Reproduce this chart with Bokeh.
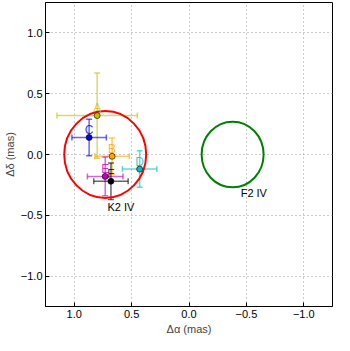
from bokeh.plotting import figure
from bokeh.models import (Range1d, FixedTicker, Whisker, TeeHead,
                          ColumnDataSource)
from bokeh.embed import file_html
from bokeh.resources import INLINE

# ---- data ----
names = ["A", "B", "C", "D", "E", "F"]
dra = [0.80, 0.67, 0.87, 0.43, 0.73, 0.68]
ddec = [0.32, -0.015, 0.14, -0.12, -0.18, -0.22]
err_ra = [0.35, 0.15, 0.15, 0.15, 0.155, 0.15]
err_dec = [0.35, 0.15, 0.15, 0.15, 0.16, 0.15]
colors = ["#bfbf00", "#ffa500", "#0000ff", "#00bfbf", "#bf00bf", "#000000"]

circle_names = ["K2 IV", "F2 IV"]
circle_x = [0.73, -0.38]
circle_y = [0.0, 0.0]
circle_r = [0.357, 0.27]
circle_colors = ["#ff0000", "#008000"]
circle_label_x = [0.71, -0.45]
circle_label_y = [-0.43, -0.32]

tick_values = [-1.0, -0.5, 0.0, 0.5, 1.0]
tick_labels = ["\u22121.0", "\u22120.5", "0.0", "0.5", "1.0"]

FONT = "Liberation Sans"

p = figure(width=336, height=337, output_backend="svg", toolbar_location=None,
           x_range=Range1d(1.25, -1.25), y_range=Range1d(-1.25, 1.25),
           min_border_left=4, min_border_right=4, min_border_top=2, min_border_bottom=2)
p.background_fill_color = "white"
p.border_fill_color = "white"
p.outline_line_color = "black"
p.outline_line_width = 1

overrides = {v: l for v, l in zip(tick_values, tick_labels)}
for ax in (p.xaxis[0], p.yaxis[0]):
    ax.ticker = FixedTicker(ticks=tick_values)
    ax.major_label_overrides = overrides
    ax.major_label_text_font = FONT
    ax.major_label_text_font_size = "11px"
    ax.major_label_text_color = "black"
    ax.major_tick_in = 4
    ax.major_tick_out = 0
    ax.minor_tick_in = 0
    ax.minor_tick_out = 0
    ax.axis_line_color = "black"
    ax.major_tick_line_color = "black"
    ax.axis_label_text_font = FONT
    ax.axis_label_text_font_size = "11px"
    ax.axis_label_text_font_style = "normal"
    ax.major_label_standoff = 3
    ax.axis_label_standoff = 2

p.xaxis[0].axis_label = "\u0394\u03b1 (mas)"
p.yaxis[0].axis_label = "\u0394\u03b4 (mas)"

for g in (p.xgrid[0], p.ygrid[0]):
    g.ticker = FixedTicker(ticks=tick_values)
    g.grid_line_color = "#999999"
    g.grid_line_dash = "1 3"
    g.grid_line_width = 1

# circles
p.ellipse(x=circle_x, y=circle_y, width=[2 * r for r in circle_r],
          height=[2 * r for r in circle_r], fill_color=None,
          line_color=circle_colors, line_width=2)
csrc = ColumnDataSource(dict(x=circle_label_x, y=circle_label_y, t=circle_names))
p.text(x="x", y="y", text="t", source=csrc, text_color="black",
       text_align="left", text_baseline="middle", text_font_size="11px",
       text_font={"value": FONT})

# error bars
for i in range(len(names)):
    src = ColumnDataSource(dict(
        x=[dra[i]], y=[ddec[i]],
        xl=[dra[i] - err_ra[i]], xu=[dra[i] + err_ra[i]],
        yl=[ddec[i] - err_dec[i]], yu=[ddec[i] + err_dec[i]]))
    c = colors[i]
    wx = Whisker(source=src, base="y", lower="xl", upper="xu", dimension="width",
                 line_color=c, line_alpha=0.6, line_width=1.5,
                 lower_head=TeeHead(size=6, line_color=c, line_alpha=0.6, line_width=1.5),
                 upper_head=TeeHead(size=6, line_color=c, line_alpha=0.6, line_width=1.5))
    wy = Whisker(source=src, base="x", lower="yl", upper="yu", dimension="height",
                 line_color=c, line_alpha=0.6, line_width=1.5,
                 lower_head=TeeHead(size=6, line_color=c, line_alpha=0.6, line_width=1.5),
                 upper_head=TeeHead(size=6, line_color=c, line_alpha=0.6, line_width=1.5))
    p.add_layout(wx)
    p.add_layout(wy)

p.scatter(x=dra, y=ddec, size=6, fill_color=colors, line_color="black",
          line_width=0.6, marker="circle")

lbl_src = ColumnDataSource(dict(x=dra, y=[d + 0.06 for d in ddec], t=names, c=colors))
p.text(x="x", y="y", text="t", text_color="c", text_alpha=0.8, source=lbl_src,
       text_align="center", text_baseline="middle", text_font_size="12px",
       text_font={"value": FONT})

open("out.html", "w").write(file_html(p, INLINE))
